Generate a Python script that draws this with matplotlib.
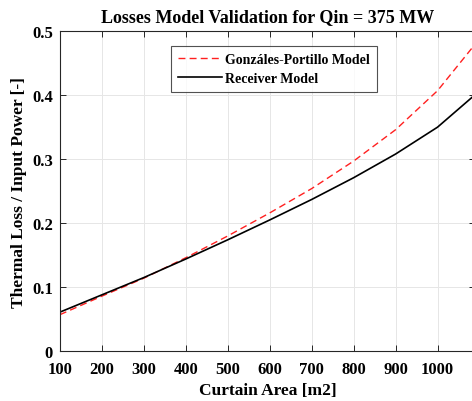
import matplotlib
matplotlib.use('Agg')
import matplotlib.pyplot as plt

plt.rcParams['font.family'] = ['Liberation Serif', 'DejaVu Serif']
plt.rcParams['font.weight'] = 'bold'

# curtain area [m2]
area = [100, 200, 300, 400, 500, 600, 700, 800, 900, 1000, 1090]
# thermal loss / input power
gp_model = [0.057, 0.086, 0.114, 0.146, 0.180, 0.216, 0.254, 0.297, 0.346, 0.407, 0.480]
rx_model = [0.061, 0.088, 0.115, 0.144, 0.174, 0.205, 0.237, 0.271, 0.308, 0.350, 0.401]

xticks = [100, 200, 300, 400, 500, 600, 700, 800, 900, 1000]
yticks = [0, 0.1, 0.2, 0.3, 0.4, 0.5]
ytick_labels = ['0', '0.1', '0.2', '0.3', '0.4', '0.5']

fig = plt.figure(figsize=(4.72, 4.02), dpi=100)
ax = fig.add_axes([0.127, 0.124, 0.88, 0.796])

ax.plot(area, gp_model, color='#ff2020', linestyle=(0, (5, 3)), linewidth=1.0,
        label='Gonzáles-Portillo Model')
ax.plot(area, rx_model, color='k', linewidth=1.2, label='Receiver Model')

ax.set_xlim(100, 1090)
ax.set_ylim(0, 0.5)
ax.set_xticks(xticks)
ax.set_yticks(yticks)
ax.set_yticklabels(ytick_labels)
ax.grid(True, color='#e6e6e6', linewidth=0.7)
ax.set_axisbelow(True)
ax.tick_params(direction='in', top=True, right=True, length=4, width=0.7,
               color='#262626', labelsize=12)
ax.tick_params(axis='x', pad=7)
ax.tick_params(axis='y', pad=5)
for s in ax.spines.values():
    s.set_color('#262626')
    s.set_linewidth(0.8)

ax.set_title('Losses Model Validation for Qin = 375 MW', fontsize=13,
             fontweight='bold', pad=7)
ax.set_xlabel('Curtain Area [m2]', fontsize=12.5, fontweight='bold', labelpad=4)
ax.set_ylabel('Thermal Loss / Input Power [-]', fontsize=12.5, fontweight='bold', labelpad=4)

leg = ax.legend(loc='upper left', bbox_to_anchor=(0.25, 0.975), fontsize=10,
                frameon=True, fancybox=False, edgecolor='#262626',
                handlelength=3.2, handletextpad=0.2, borderpad=0.5,
                labelspacing=0.4)
leg.get_frame().set_linewidth(0.8)

fig.savefig('out.png', dpi=100)
